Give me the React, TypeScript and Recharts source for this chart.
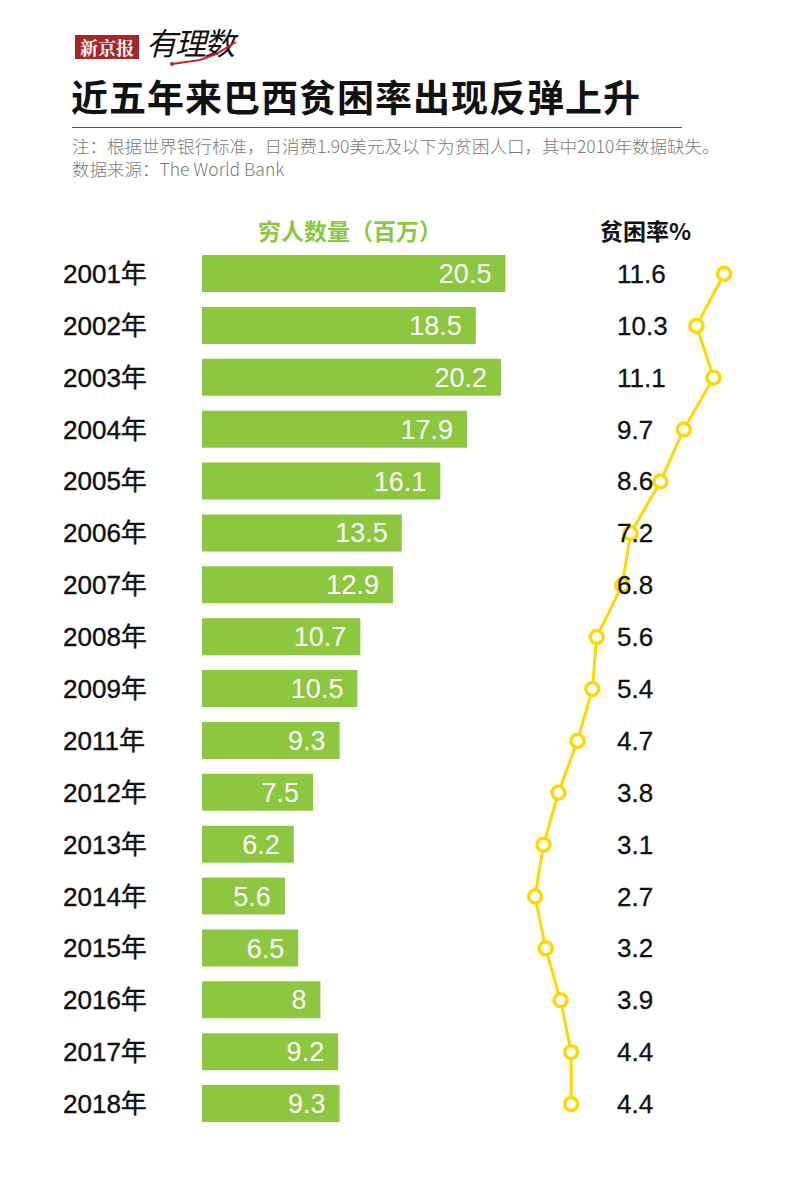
import { Bar, ComposedChart, LabelList, Line, XAxis, YAxis } from 'recharts';

const years = ['2001年', '2002年', '2003年', '2004年', '2005年', '2006年', '2007年', '2008年', '2009年', '2011年', '2012年', '2013年', '2014年', '2015年', '2016年', '2017年', '2018年'];
const poorMillions = [20.5, 18.5, 20.2, 17.9, 16.1, 13.5, 12.9, 10.7, 10.5, 9.3, 7.5, 6.2, 5.6, 6.5, 8, 9.2, 9.3];
const povertyRate = [11.6, 10.3, 11.1, 9.7, 8.6, 7.2, 6.8, 5.6, 5.4, 4.7, 3.8, 3.1, 2.7, 3.2, 3.9, 4.4, 4.4];

const data = years.map((year, i) => ({ year, poor: poorMillions[i], rate: povertyRate[i] }));

const GREEN = '#8dc63f';
const YELLOW = '#ffd800';
const SANS = '"Liberation Sans", Arial, sans-serif';
const CJK = '"Noto Sans CJK SC", "Noto Sans", sans-serif';

const YearTick = ({ y, payload }: any) => (
  <text x={63} y={y} dy={9} fontSize={26} fontFamily={`${SANS}, ${CJK}`} fill="#111" stroke="#111" strokeWidth={0.4}>
    {payload.value}
  </text>
);

const RateLabel = ({ y, value }: any) => (
  <text x={617} y={y} dy={9} fontSize={26} fontFamily={SANS} fill="#111" stroke="#111" strokeWidth={0.3}>
    {Number(value).toFixed(1)}
  </text>
);

export default function App() {
  return (
    <div style={{ position: 'absolute', left: 0, top: 0, width: 800, height: 1186, background: '#fff', fontFamily: CJK }}>
      {/* header */}
      <div style={{ position: 'absolute', left: 75, top: 35, width: 64, height: 24, background: '#a6262b', color: '#fff', fontSize: 18, fontWeight: 700, lineHeight: '24px', textAlign: 'center', fontFamily: '"Noto Serif CJK SC", ' + CJK }}>
        新京报
      </div>
      <div style={{ position: 'absolute', left: 146, top: 24, fontSize: 31, fontStyle: 'italic', color: '#111', lineHeight: '36px', letterSpacing: -2 }}>
        有理数
      </div>
      <svg style={{ position: 'absolute', left: 170, top: 40 }} width={80} height={30}>
        <polyline points="2,24 30,20 46,14 66,2" fill="none" stroke="#c4262b" strokeWidth={2} />
        <circle cx={2} cy={24} r={2} fill="#c4262b" />
      </svg>
      <div style={{ position: 'absolute', left: 71, top: 74, fontSize: 37, fontWeight: 700, color: '#111', lineHeight: '44px', letterSpacing: 1 }}>
        近五年来巴西贫困率出现反弹上升
      </div>
      <div style={{ position: 'absolute', left: 72, top: 127, width: 610, borderTop: '1px solid #555' }} />
      <div style={{ position: 'absolute', left: 72, top: 134, fontSize: 17.5, fontWeight: 300, color: '#7a7a7a', lineHeight: '23px' }}>
        <div>注：根据世界银行标准，日消费1.90美元及以下为贫困人口，其中2010年数据缺失。</div>
        <div>数据来源：The World Bank</div>
      </div>
      <div style={{ position: 'absolute', left: 258, top: 215, fontSize: 23, fontWeight: 700, color: GREEN, lineHeight: '30px' }}>
        穷人数量（百万）
      </div>
      <div style={{ position: 'absolute', left: 600, top: 215, fontSize: 23, fontWeight: 700, color: '#111', lineHeight: '30px' }}>
        贫困率%
      </div>

      <div style={{ position: 'absolute', left: 0, top: 0 }}>
        <ComposedChart width={800} height={1186} data={data} layout="vertical" margin={{ top: 248, right: 40, bottom: 56, left: 0 }}>
          <XAxis xAxisId="bar" type="number" domain={[0, 37.7]} allowDataOverflow hide />
          <XAxis xAxisId="rate" type="number" domain={[-12.98, 13.29]} allowDataOverflow hide />
          <YAxis type="category" dataKey="year" width={202} axisLine={false} tickLine={false} tick={<YearTick />} interval={0} />
          <Bar xAxisId="bar" dataKey="poor" fill={GREEN} barSize={37} isAnimationActive={false}>
            <LabelList dataKey="poor" position="insideRight" offset={14} fill="#fff" fontSize={27} fontFamily={SANS} />
          </Bar>
          <Line
            xAxisId="rate"
            dataKey="rate"
            stroke={YELLOW}
            strokeWidth={3}
            dot={{ r: 6.5, fill: '#fff', stroke: YELLOW, strokeWidth: 3.5 }}
            isAnimationActive={false}
          >
            <LabelList dataKey="rate" content={<RateLabel />} />
          </Line>
        </ComposedChart>
      </div>
    </div>
  );
}
